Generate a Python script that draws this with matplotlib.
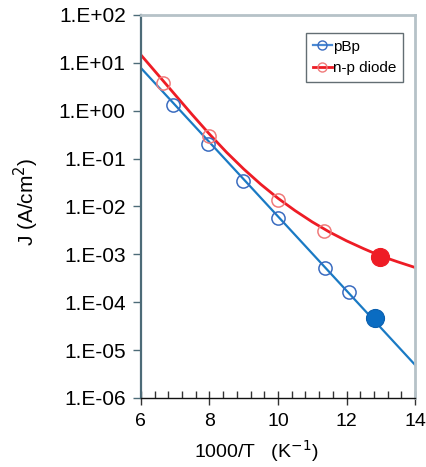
import numpy as np
import matplotlib
matplotlib.use("Agg")
import matplotlib.pyplot as plt
from matplotlib.ticker import FixedLocator, MultipleLocator, FuncFormatter

plt.rcParams['font.family'] = ['Liberation Sans', 'DejaVu Sans']

# Measured current density (open symbols) and highlighted points (filled)
pbp_x = [6.93, 7.96, 8.98, 10.0, 11.37, 12.07]
pbp_j = [1.32, 0.20, 0.034, 0.0058, 5.2e-4, 1.65e-4]
pbp_hl_x = [12.83]
pbp_hl_j = [4.7e-5]

np_x = [6.64, 7.99, 10.0, 11.35]
np_j = [3.8, 0.30, 0.0137, 3.1e-3]
np_hl_x = [12.98]
np_hl_j = [8.9e-4]

# Model curves
pbp_fit_x = [6.0, 14.0]
pbp_fit_j = [7.8, 4.9e-6]

np_fit_x = [6.0, 6.5, 7.0, 7.5, 8.0, 8.5, 9.0, 9.5, 10.0, 10.5, 11.0, 11.5,
            12.0, 12.5, 13.0, 13.5, 14.0]
np_fit_j = [14.6, 5.6, 2.14, 0.82, 0.324, 0.135, 0.0604, 0.0289, 0.0148,
            8.15e-3, 4.74e-3, 2.92e-3, 1.91e-3, 1.31e-3, 9.2e-4, 6.93e-4,
            5.3e-4]

blue_line = '#1a7ac4'
blue_mark = '#3a6cc0'
red_line = '#ee1c25'
red_mark = '#f07a7a'

fig = plt.figure(figsize=(4.27, 4.67), dpi=100)
ax = fig.add_axes([0.330, 0.148, 0.642, 0.820])

ax.plot(pbp_fit_x, pbp_fit_j, color=blue_line, lw=1.6, zorder=2)
ax.plot(np_fit_x, np_fit_j, color=red_line, lw=2.0, zorder=2,
        solid_joinstyle='round')

ax.plot(pbp_x, pbp_j, ls='none', marker='o', ms=9.5, mfc='none',
        mec=blue_mark, mew=1.1, zorder=3)
ax.plot(np_x, np_j, ls='none', marker='o', ms=9.5, mfc='none',
        mec=red_mark, mew=1.1, zorder=3)
ax.plot(pbp_hl_x, pbp_hl_j, ls='none', marker='o', ms=13, mfc='#0a6cc2',
        mec='#0a5fae', mew=0.8, zorder=4)
ax.plot(np_hl_x, np_hl_j, ls='none', marker='o', ms=13, mfc=red_line,
        mec=red_line, mew=0.8, zorder=4)

# Legend proxies
h1, = ax.plot([], [], color='#4a8ad4', lw=1.6, marker='o', ms=6.5, mfc='none',
              mec=blue_mark, mew=1.0, label='pBp')
h2, = ax.plot([], [], color=red_line, lw=2.0, marker='o', ms=6.5, mfc='none',
              mec=red_mark, mew=1.0, label='n-p diode')
leg = ax.legend(handles=[h1, h2], loc='upper right',
                bbox_to_anchor=(0.956, 0.953), fontsize=11, frameon=True,
                fancybox=False, handlelength=1.25, handletextpad=0.05,
                borderpad=0.45, labelspacing=0.5, borderaxespad=0)
leg.get_frame().set_edgecolor('#3c4a50')
leg.get_frame().set_linewidth(1.0)

ax.set_yscale('log')
ax.set_xlim(6, 14)
ax.set_ylim(1e-6, 1e2)

exps = list(range(-6, 3))
ax.yaxis.set_major_locator(FixedLocator([10.0 ** e for e in exps]))
ax.yaxis.set_minor_locator(FixedLocator([]))
ax.yaxis.set_major_formatter(FuncFormatter(
    lambda v, p: '1.E{:+03d}'.format(int(round(np.log10(v))))))
ax.xaxis.set_major_locator(MultipleLocator(2))
ax.xaxis.set_minor_locator(MultipleLocator(0.4))

ax.tick_params(axis='y', which='major', direction='out', length=6,
               width=1.0, color='#4d6b78', labelsize=15, pad=5)
ax.tick_params(axis='x', which='major', direction='inout', length=10,
               width=1.0, color='#333333', labelsize=14, pad=6)
ax.tick_params(axis='x', which='minor', direction='in', length=5,
               width=1.0, color='#333333')

ax.spines['left'].set_color('#4d6b78')
ax.spines['left'].set_linewidth(1.6)
ax.spines['bottom'].set_color('#111111')
ax.spines['bottom'].set_linewidth(1.0)
for s in ('top', 'right'):
    ax.spines[s].set_color('#b6c2c8')
    ax.spines[s].set_linewidth(2.0)

ax.set_ylabel('J (A/cm$^2$)', fontsize=15)
ax.yaxis.set_label_coords(-0.416, 0.513)
ax.set_xlabel('1000/T   (K$^{-1}$)', fontsize=14)
ax.xaxis.set_label_coords(0.42, -0.14)
ax.xaxis.label.set_verticalalignment('center')
ax.yaxis.label.set_verticalalignment('center')

fig.savefig('out.png', dpi=100)
